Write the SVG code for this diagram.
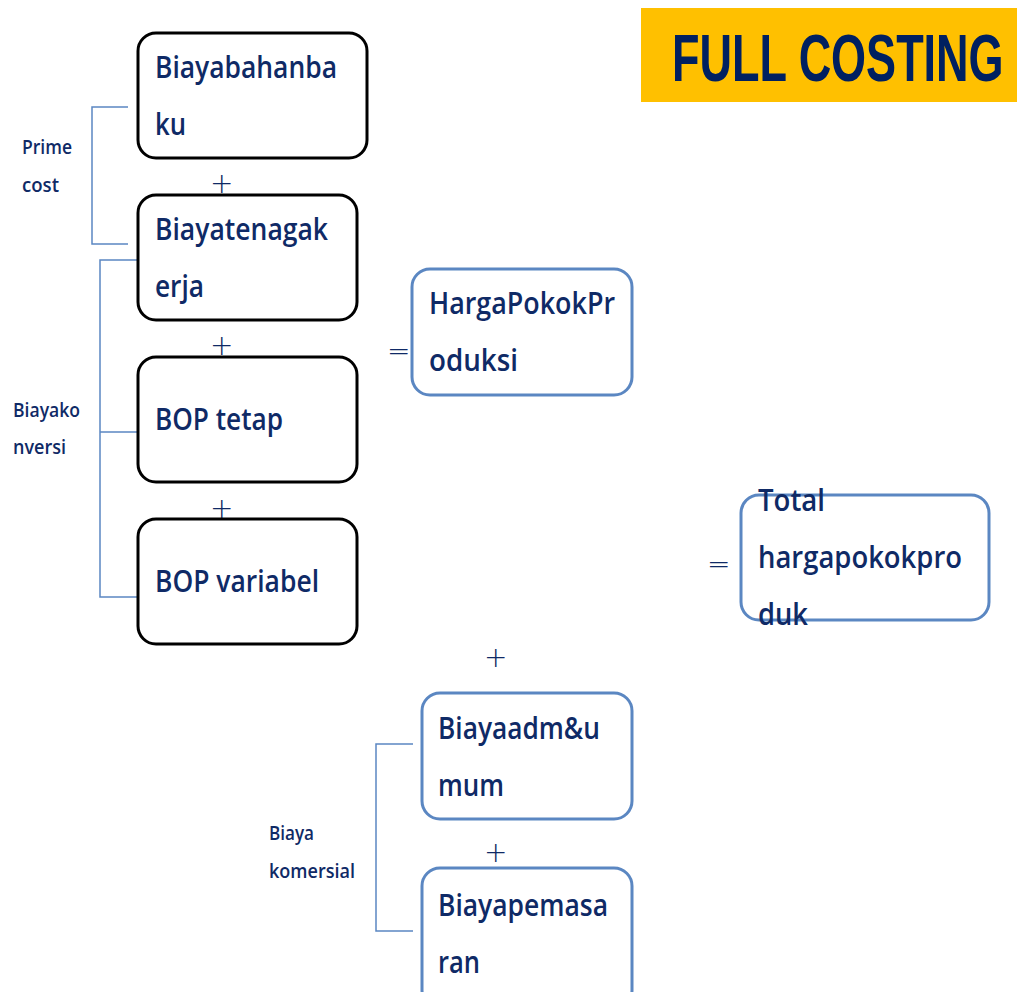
<svg xmlns="http://www.w3.org/2000/svg" width="1017" height="992" viewBox="0 0 1017 992">
<style>
.bk{fill:#fff;stroke:#000;stroke-width:3}
.bl{fill:#fff;stroke:#5b87c2;stroke-width:3}
.t{font-family:"Open Sans","DejaVu Sans",sans-serif;font-size:31px;font-weight:600;fill:#0f2a66}
.s{font-family:"Open Sans","DejaVu Sans",sans-serif;font-size:20px;font-weight:600;fill:#0f2a66}
.op{font-family:"DejaVu Sans",sans-serif;font-size:28px;font-weight:300;fill:#0f2a66}
.br{fill:none;stroke:#5b87c2;stroke-width:1.5}
</style>
<rect width="1017" height="992" fill="#fff"/>
<g id="title">
<rect x="641" y="8" width="376" height="94" fill="#ffc000"/>
<text x="0" y="0" transform="translate(672,81) scale(1,1.47)" font-family="Liberation Sans,Arial,sans-serif" font-weight="bold" font-size="45" fill="#002060">FULL COSTING</text>
</g>
<g id="connectors">
<path class="br" d="M128,107 H92 V244 H128"/>
<path class="br" d="M137,260 H100 V597 H137 M100,432 H137"/>
<path class="br" d="M413,744 H376 V931 H413"/>
</g>
<g id="n1"><rect class="bk" x="138" y="33" width="229" height="125" rx="18"/>
<text class="t" x="155" y="78" textLength="182" lengthAdjust="spacingAndGlyphs">Biayabahanba</text><text class="t" x="155" y="135" textLength="31" lengthAdjust="spacingAndGlyphs">ku</text></g>
<text class="op" x="210" y="193">+</text>
<g id="n2"><rect class="bk" x="138" y="195" width="219" height="125" rx="18"/>
<text class="t" x="155" y="240" textLength="173" lengthAdjust="spacingAndGlyphs">Biayatenagak</text><text class="t" x="155" y="297" textLength="49" lengthAdjust="spacingAndGlyphs">erja</text></g>
<text class="op" x="210" y="355">+</text>
<g id="n3"><rect class="bk" x="138" y="357" width="219" height="125" rx="18"/>
<text class="t" x="155" y="430" textLength="128" lengthAdjust="spacingAndGlyphs">BOP tetap</text></g>
<text class="op" x="210" y="518">+</text>
<g id="n4"><rect class="bk" x="138" y="519" width="219" height="125" rx="18"/>
<text class="t" x="155" y="592" textLength="164" lengthAdjust="spacingAndGlyphs">BOP variabel</text></g>
<g id="lbl-prime"><text class="s" x="22" y="154" textLength="50" lengthAdjust="spacingAndGlyphs">Prime</text><text class="s" x="22" y="192" textLength="37" lengthAdjust="spacingAndGlyphs">cost</text></g>
<g id="lbl-konv"><text class="s" x="13" y="417" textLength="67" lengthAdjust="spacingAndGlyphs">Biayako</text><text class="s" x="13" y="454" textLength="53" lengthAdjust="spacingAndGlyphs">nversi</text></g>
<text class="op" x="387" y="360">=</text>
<g id="n5"><rect class="bl" x="412" y="269" width="220" height="126" rx="18"/>
<text class="t" x="429" y="314" textLength="186" lengthAdjust="spacingAndGlyphs">HargaPokokPr</text><text class="t" x="429" y="371" textLength="89" lengthAdjust="spacingAndGlyphs">oduksi</text></g>
<text class="op" x="707" y="573">=</text>
<g id="n6"><rect class="bl" x="741" y="495" width="248" height="125" rx="18"/>
<text class="t" x="758" y="511" textLength="67" lengthAdjust="spacingAndGlyphs">Total</text><text class="t" x="758" y="568" textLength="204" lengthAdjust="spacingAndGlyphs">hargapokokpro</text><text class="t" x="758" y="625" textLength="50" lengthAdjust="spacingAndGlyphs">duk</text></g>
<text class="op" x="484" y="667">+</text>
<g id="n7"><rect class="bl" x="422" y="693" width="210" height="126" rx="18"/>
<text class="t" x="438" y="739" textLength="162" lengthAdjust="spacingAndGlyphs">Biayaadm&amp;u</text><text class="t" x="438" y="796" textLength="66" lengthAdjust="spacingAndGlyphs">mum</text></g>
<text class="op" x="484" y="862">+</text>
<g id="n8"><rect class="bl" x="422" y="868" width="210" height="140" rx="18"/>
<text class="t" x="438" y="916" textLength="170" lengthAdjust="spacingAndGlyphs">Biayapemasa</text><text class="t" x="438" y="973" textLength="42" lengthAdjust="spacingAndGlyphs">ran</text></g>
<g id="lbl-kom"><text class="s" x="269" y="840" textLength="45" lengthAdjust="spacingAndGlyphs">Biaya</text><text class="s" x="269" y="878" textLength="86" lengthAdjust="spacingAndGlyphs">komersial</text></g>
</svg>
